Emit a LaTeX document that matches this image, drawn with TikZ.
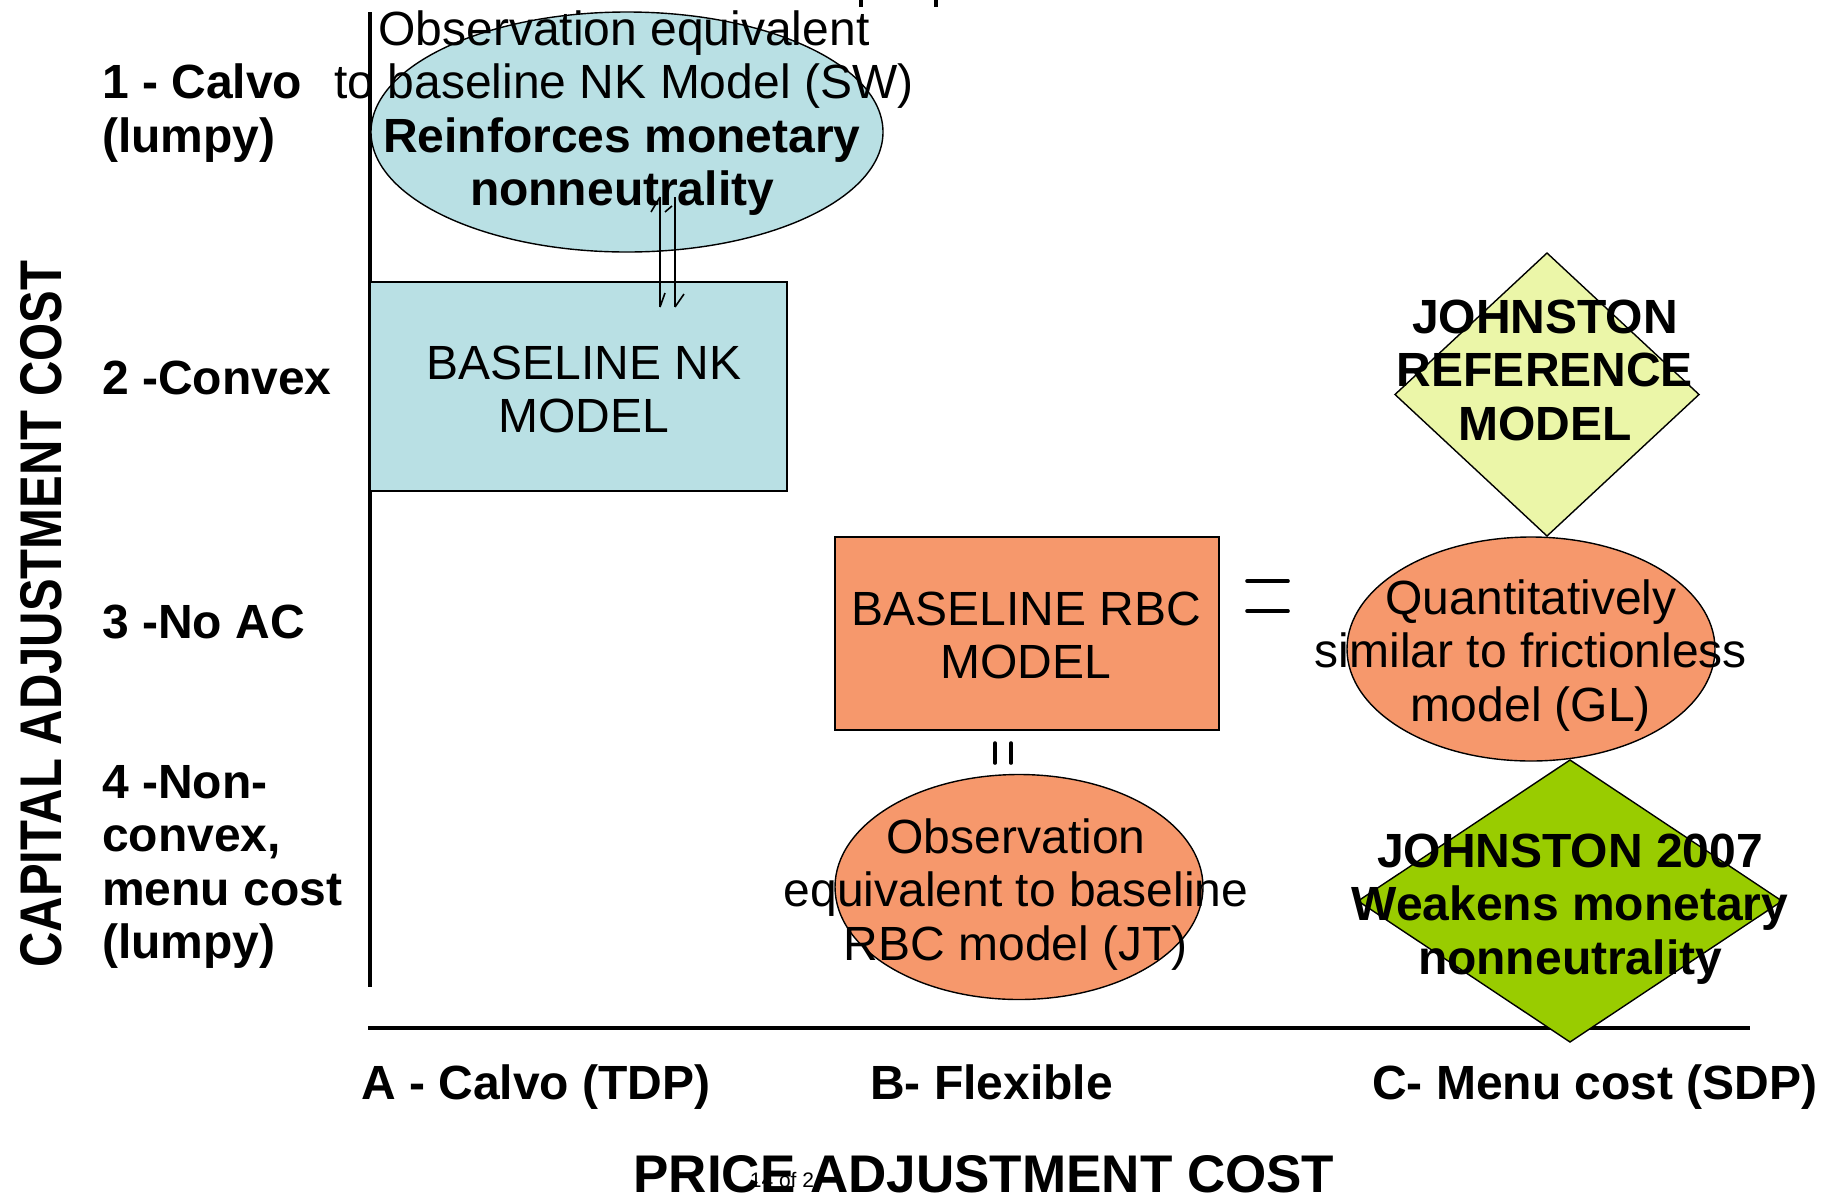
\documentclass[tikz,border=0pt]{standalone}
\usepackage{fontspec}
\setmainfont{Liberation Sans}
\usetikzlibrary{shapes.geometric}
\definecolor{nkblue}{RGB}{185,224,228}
\definecolor{salmon}{RGB}{246,152,108}
\definecolor{refyellow}{RGB}{235,246,168}
\definecolor{jgreen}{RGB}{153,204,0}
\newcommand\mlines[1]{\vtop{\baselineskip=53.6pt\lineskiplimit=-200pt\halign{\hfil##\hfil\cr#1\crcr}}}
\newcommand\mlinesl[1]{\vtop{\baselineskip=53.6pt\lineskiplimit=-200pt\halign{##\hfil\cr#1\crcr}}}
\begin{document}
\begin{tikzpicture}[x=1pt,y=-1pt,
  txt/.style={inner sep=0pt,anchor=base,font=\fontsize{48}{53.6}\selectfont},
  btxt/.style={inner sep=0pt,anchor=base,font=\fontsize{48}{53.6}\selectfont\bfseries},
  shp/.style={draw=black,line width=1.4pt,inner sep=0pt,outer sep=0pt},
  axis/.style={line width=3.2pt},
  eqmark/.style={line width=3.6pt,line cap=round}]
\useasboundingbox (0,0) rectangle (1826,1195);
% cut-off fragments at top
\fill (859,0) rectangle (863,7);
\fill (934,0) rectangle (938,7);
% axes
\coordinate (vtop) at (370,12);
\coordinate (vbot) at (370,987);
\coordinate (hleft) at (368,1028);
\coordinate (hright) at (1750,1028);
\draw[axis] (vtop) -- (vbot);
\draw[axis,line width=4pt] (hleft) -- (hright);
% shapes
\node[shp,ellipse,fill=nkblue,minimum width=512pt,minimum height=240pt] (e1) at (627,132) {};
\node[shp,rectangle,fill=nkblue,minimum width=417pt,minimum height=209pt] (nk) at (578.5,386.5) {};
\node[shp,diamond,fill=refyellow,minimum width=304pt,minimum height=283pt] (ref) at (1547,394.5) {};
\node[shp,rectangle,fill=salmon,minimum width=384pt,minimum height=193pt] (rbc) at (1027,633.5) {};
\node[shp,ellipse,fill=salmon,minimum width=368pt,minimum height=224pt] (gl) at (1531,649) {};
\node[shp,ellipse,fill=salmon,minimum width=368pt,minimum height=225pt] (jt) at (1019,887) {};
\node[shp,diamond,fill=jgreen,minimum width=424pt,minimum height=282pt] (j07) at (1570,901) {};
% shape texts
\node[txt] (t1a) at (624,45) {\mlines{Observation equivalent\cr to baseline NK Model (SW)}};
\node[btxt] (t1b) at (622,152) {\mlines{Reinforces monetary\cr nonneutrality}};
\node[txt] (tnk) at (584,379) {\mlines{BASELINE NK\cr MODEL}};
\node[btxt] (tref) at (1545,333) {\mlines{JOHNSTON\cr REFERENCE\cr MODEL}};
\node[txt] (trbc) at (1026,625) {\mlines{BASELINE RBC\cr MODEL}};
\node[txt] (tgl) at (1531,614) {\mlines{Quantitatively\cr similar to frictionless\cr model (GL)}};
\node[txt] (tjt) at (1016,853) {\mlines{Observation\cr equivalent to baseline\cr RBC model (JT)}};
\node[btxt] (tj07) at (1570,867) {\mlines{JOHNSTON 2007\cr Weakens monetary\cr nonneutrality}};
% row labels
\node[btxt,anchor=base west] (r1) at (102,98.5) {\mlinesl{1 - Calvo\cr (lumpy)}};
\node[btxt,anchor=base west] (r2) at (102,394) {2 -Convex};
\node[btxt,anchor=base west] (r3) at (102,638) {3 -No AC};
\node[btxt,anchor=base west] (r4) at (102,798) {\mlinesl{4 -Non-\cr convex,\cr menu cost\cr (lumpy)}};
% column labels
\node[btxt,anchor=base west] (cA) at (361,1099) {A - Calvo (TDP)};
\node[btxt,anchor=base west] (cB) at (870,1099) {B- Flexible};
\node[btxt,anchor=base west] (cC) at (1372,1099) {C- Menu cost (SDP)};
% axis titles
\node[inner sep=0pt,rotate=90,font=\fontsize{49}{55}\selectfont\bfseries] (ycap) at (41,614) {\scalebox{1}[1.2]{CAPITAL ADJUSTMENT COST}};
\node[inner sep=0pt,anchor=base,font=\fontsize{53}{60}\selectfont\bfseries] (xcap) at (984,1192) {PRICE ADJUSTMENT COST};
\node[inner sep=0pt,font=\fontsize{21}{23}\selectfont] (pg) at (782,1180) {14 of 2};
% double arrow between NK ellipse and NK box
\coordinate (a1t) at (660,197); \coordinate (a1b) at (660,307);
\coordinate (a2t) at (675,197); \coordinate (a2b) at (675,307);
\draw[line width=2.6pt] (a1t) -- (a1b);
\draw[line width=2.6pt] (a2t) -- (a2b);
\draw[line width=1.6pt] (a1t) -- ++(-9,15);
\draw[line width=1.6pt] (a2t) ++(-3,9) -- ++(-7,6);
\draw[line width=1.6pt] (a1b) -- ++(5,-14);
\draw[line width=1.6pt] (a2b) -- ++(9,-13);
% equal signs
\coordinate (q1l) at (1247,581); \coordinate (q1r) at (1288,581);
\coordinate (q2l) at (1247,611); \coordinate (q2r) at (1288,611);
\draw[eqmark] (q1l) -- (q1r);
\draw[eqmark] (q2l) -- (q2r);
\coordinate (v1t) at (995,743); \coordinate (v1b) at (995,763);
\coordinate (v2t) at (1011,743); \coordinate (v2b) at (1011,763);
\draw[eqmark] (v1t) -- (v1b);
\draw[eqmark] (v2t) -- (v2b);
\end{tikzpicture}
\end{document}
